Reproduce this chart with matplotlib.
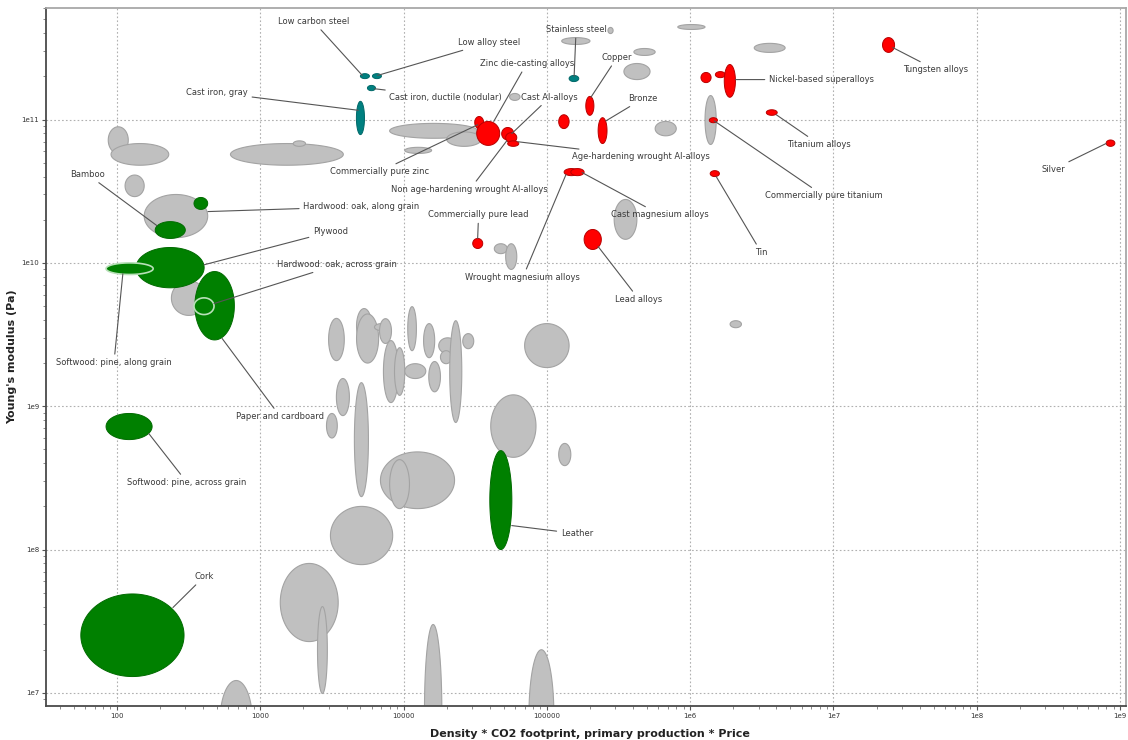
import numpy as np
import matplotlib
matplotlib.use("Agg")
import matplotlib.pyplot as plt
from matplotlib.ticker import LogLocator, NullFormatter

# ---------------------------------------------------------------
# Background materials (grey bubbles): property ranges
# x = Density * CO2 footprint * Price, y = Young's modulus (Pa)
# ---------------------------------------------------------------
bg_x_lo = [87, 91, 114, 155, 620, 1700, 8000, 20000, 10200, 55000,
           1.27e5, 8.2e5, 4.05e5, 2.8e6, 3.45e5, 5.7e5, 1.27e6, 2.95e5,
           43000, 51600, 1.9e6, 240, 3000, 4700, 4700, 6270, 6800, 7240,
           8650, 10700, 10200, 13800, 15000, 17600, 18100, 21000, 25900,
           70000, 3400, 2900, 4540, 6900, 8000, 40600, 1.21e5, 3090, 1380,
           2510, 14000, 75000, 525, 2.67e5]
bg_x_hi = [120, 230, 155, 430, 3800, 2070, 33000, 35000, 15700, 65000,
           2.0e5, 1.27e6, 5.7e5, 4.6e6, 5.25e5, 8.0e5, 1.52e6, 4.25e5,
           53000, 61700, 2.28e6, 420, 3860, 6000, 6700, 7850, 8240, 9220,
           10200, 12300, 14300, 16500, 18100, 23500, 21700, 25500, 30900,
           1.43e5, 4190, 3450, 5690, 22700, 11000, 84000, 1.47e5, 8400, 3500,
           2940, 18500, 1.12e5, 880, 2.9e5]
bg_y_lo = [5.8e10, 4.8e10, 2.9e10, 1.5e10, 4.8e10, 6.5e10, 7.4e10, 6.5e10,
           5.8e10, 1.36e11, 3.34e11, 4.25e11, 2.8e11, 2.94e11, 1.9e11, 7.7e10,
           6.7e10, 1.46e10, 1.16e10, 9.0e9, 3.53e9, 4.3e9, 2.08e9, 2.74e9,
           2.0e9, 3.37e9, 2.74e9, 1.06e9, 1.19e9, 2.44e9, 1.56e9, 2.18e9,
           1.26e9, 2.33e9, 1.98e9, 7.7e8, 2.52e9, 1.86e9, 8.6e8, 6.0e8,
           2.34e8, 1.93e8, 1.93e8, 4.4e8, 3.85e8, 7.85e7, 2.28e7, 9.9e6,
           1.9e6, 2.4e6, 3.4e6, 3.98e11]
bg_y_hi = [8.9e10, 6.8e10, 4.1e10, 3.0e10, 6.8e10, 7.1e10, 9.4e10, 8.2e10,
           6.4e10, 1.52e11, 3.73e11, 4.6e11, 3.13e11, 3.4e11, 2.46e11, 9.7e10,
           1.47e11, 2.77e10, 1.36e10, 1.36e10, 3.95e9, 7.5e9, 4.1e9, 4.8e9,
           4.4e9, 3.77e9, 4.08e9, 2.87e9, 2.56e9, 4.95e9, 1.98e9, 3.77e9,
           2.05e9, 3.0e9, 2.44e9, 3.95e9, 3.21e9, 3.77e9, 1.56e9, 8.9e8,
           1.46e9, 4.8e8, 4.24e8, 1.2e9, 5.5e8, 2.0e8, 8.0e7, 4.0e7,
           3.0e7, 2.0e7, 1.22e7, 4.39e11]

# ---------------------------------------------------------------
# Highlighted materials (drawn in this order)
# ---------------------------------------------------------------
hl_names = [
    "Cork", "Leather", "Softwood: pine, across grain", "Paper and cardboard",
    "Hardwood: oak, across grain", "Plywood", "Softwood: pine, along grain",
    "Bamboo", "Hardwood: oak, along grain",
    "Cast iron, gray", "Low carbon steel", "Low alloy steel",
    "Cast iron, ductile (nodular)", "Stainless steel",
    "Commercially pure zinc", "Zinc die-casting alloys", "Cast Al-alloys",
    "Non age-hardening wrought Al-alloys", "Age-hardening wrought Al-alloys",
    "", "Copper", "Bronze", "", "", "Nickel-based superalloys",
    "Commercially pure titanium", "Titanium alloys",
    "Wrought magnesium alloys", "Cast magnesium alloys", "Tin",
    "Commercially pure lead", "Lead alloys", "Tungsten alloys", "Silver",
]
hl_family = (["natural"] * 9 + ["ferrous"] * 5 + ["nonferrous"] * 20)
hl_x_lo = [56, 40000, 84, 350, 345, 136, 84, 185, 345,
           4690, 5000, 6070, 5600, 1.43e5,
           31400, 32400, 48400, 51600, 53300, 1.21e5, 1.87e5, 2.28e5,
           1.19e6, 1.5e6, 1.73e6, 1.36e6, 3.4e6, 1.32e5, 1.47e5, 1.38e6,
           30400, 1.82e5, 2.2e7, 8.0e8]
hl_x_hi = [294, 57000, 176, 660, 476, 406, 179, 300, 430,
           5340, 5780, 7010, 6370, 1.67e5,
           36200, 46900, 58800, 61700, 63700, 1.43e5, 2.13e5, 2.63e5,
           1.4e6, 1.76e6, 2.07e6, 1.55e6, 4.05e6, 1.67e5, 1.82e5, 1.6e6,
           35700, 2.4e5, 2.67e7, 9.2e8]
hl_y_lo = [1.3e7, 1.0e8, 5.85e8, 2.9e9, 4.36e9, 6.7e9, 8.3e9, 1.48e10, 2.36e10,
           7.85e10, 1.93e11, 1.93e11, 1.59e11, 1.84e11,
           8.65e10, 6.6e10, 7.2e10, 6.9e10, 6.5e10, 8.65e10, 1.07e11, 6.8e10,
           1.81e11, 1.96e11, 1.43e11, 9.5e10, 1.07e11, 4.06e10, 4.06e10, 4.0e10,
           1.26e10, 1.24e10, 2.94e11, 6.5e10]
hl_y_hi = [4.9e7, 4.9e8, 8.9e8, 8.7e9, 5.7e9, 1.28e10, 1.0e10, 1.94e10, 2.86e10,
           1.34e11, 2.09e11, 2.09e11, 1.73e11, 2.03e11,
           1.05e11, 9.7e10, 8.8e10, 8.1e10, 7.1e10, 1.08e11, 1.45e11, 1.03e11,
           2.13e11, 2.16e11, 2.42e11, 1.03e11, 1.17e11, 4.55e10, 4.55e10, 4.4e10,
           1.48e10, 1.71e10, 3.73e11, 7.2e10]

x_ticks = [100, 1000, 10000, 100000, 1e6, 1e7, 1e8, 1e9]
x_tick_labels = ["100", "1000", "10000", "100000", "1e6", "1e7", "1e8", "1e9"]
y_ticks = [1e7, 1e8, 1e9, 1e10, 1e11]
y_tick_labels = ["1e7", "1e8", "1e9", "1e10", "1e11"]

# Label placement: name -> (text x, text y, leader end x, leader end y)
label_pos = {
    "Low carbon steel": (2350, 4.83e11, 5160, 2.03e11),
    "Low alloy steel": (39300, 3.44e11, 6580, 2.03e11),
    "Cast iron, gray": (500, 1.54e11, 4840, 1.16e11),
    "Cast iron, ductile (nodular)": (19700, 1.43e11, 6270, 1.64e11),
    "Zinc die-casting alloys": (72400, 2.46e11, 42600, 9.7e10),
    "Cast Al-alloys": (1.05e5, 1.43e11, 56900, 7.98e10),
    "Stainless steel": (1.6e5, 4.25e11, 1.55e5, 2.0e11),
    "Copper": (3.09e5, 2.71e11, 2.03e5, 1.43e11),
    "Bronze": (4.69e5, 1.4e11, 2.59e5, 9.8e10),
    "Nickel-based superalloys": (8.24e6, 1.9e11, 2.07e6, 1.9e11),
    "Tungsten alloys": (5.16e7, 2.23e11, 2.59e7, 3.18e11),
    "Titanium alloys": (7.98e6, 6.7e10, 3.99e6, 1.08e11),
    "Commercially pure titanium": (8.5e6, 2.95e10, 1.47e6, 9.8e10),
    "Silver": (3.4e8, 4.48e10, 7.98e8, 6.8e10),
    "Age-hardening wrought Al-alloys": (4.54e5, 5.52e10, 62700, 7.0e10),
    "Commercially pure zinc": (6790, 4.33e10, 32900, 9.2e10),
    "Non age-hardening wrought Al-alloys": (29000, 3.25e10, 52500, 7.1e10),
    "Commercially pure lead": (33400, 2.17e10, 32900, 1.48e10),
    "Cast magnesium alloys": (6.17e5, 2.17e10, 1.76e5, 4.27e10),
    "Wrought magnesium alloys": (67900, 7.9e9, 1.36e5, 4.13e10),
    "Lead alloys": (4.4e5, 5.55e9, 2.28e5, 1.3e10),
    "Tin": (3.14e6, 1.18e10, 1.52e6, 4.0e10),
    "Bamboo": (62.7, 4.13e10, 190, 1.82e10),
    "Hardwood: oak, along grain": (5080, 2.47e10, 432, 2.28e10),
    "Plywood": (3090, 1.65e10, 406, 9.7e9),
    "Hardwood: oak, across grain": (3450, 9.7e9, 476, 5.2e9),
    "Softwood: pine, along grain": (95.3, 2.01e9, 110, 8.4e9),
    "Paper and cardboard": (1380, 8.45e8, 542, 2.97e9),
    "Softwood: pine, across grain": (309, 2.93e8, 167, 6.44e8),
    "Leather": (1.62e5, 1.29e8, 56900, 1.47e8),
    "Cork": (406, 6.47e7, 246, 3.94e7),
}

# Styling
face = {"natural": "#008000", "ferrous": "#008080", "nonferrous": "#ff0000"}
edge = {"natural": "#006a00", "ferrous": "#006868", "nonferrous": "#b80000"}
pale_edge_names = {"Softwood: pine, along grain", "Hardwood: oak, across grain"}


def draw_range(ax, xlo, xhi, ylo, yhi, fc, ec, lw, z):
    """Ellipse spanning a property range, drawn in log-log space."""
    t = np.linspace(0, 2 * np.pi, 240)
    lx0, lx1 = np.log10(xlo), np.log10(xhi)
    ly0, ly1 = np.log10(ylo), np.log10(yhi)
    cx, rx = (lx0 + lx1) / 2, (lx1 - lx0) / 2
    cy, ry = (ly0 + ly1) / 2, (ly1 - ly0) / 2
    ax.fill(10 ** (cx + rx * np.cos(t)), 10 ** (cy + ry * np.sin(t)),
            facecolor=fc, edgecolor=ec, linewidth=lw, zorder=z)


fig = plt.figure(figsize=(11.28, 7.4), dpi=100)
ax = fig.add_axes([46 / 1128, 34 / 740, 1080 / 1128, 698 / 740])
ax.set_xscale("log")
ax.set_yscale("log")
ax.set_xlim(32, 1.1e9)
ax.set_ylim(8.1e6, 6.0e11)

for xl, xh, yl, yh in zip(bg_x_lo, bg_x_hi, bg_y_lo, bg_y_hi):
    draw_range(ax, xl, xh, yl, yh, "#c0c0c0", "#a3a3a3", 0.8, 2)

for i, (nm, fam) in enumerate(zip(hl_names, hl_family)):
    ec = "#b8e0b8" if nm in pale_edge_names else edge[fam]
    lw = 1.2 if nm in pale_edge_names else 0.7
    draw_range(ax, hl_x_lo[i], hl_x_hi[i], hl_y_lo[i], hl_y_hi[i],
               face[fam], ec, lw, 3 + i * 0.01)

for nm, (tx, ty, px, py) in label_pos.items():
    ax.annotate(nm, xy=(px, py), xytext=(tx, ty), textcoords="data",
                ha="center", va="center", fontsize=6, color="#3a3a3a",
                family="DejaVu Sans", zorder=6,
                arrowprops=dict(arrowstyle="-", color="#555555", lw=0.8,
                                shrinkA=1, shrinkB=0))

# Axes, ticks and grid
ax.set_xticks(x_ticks)
ax.set_xticklabels(x_tick_labels)
ax.set_yticks(y_ticks)
ax.set_yticklabels(y_tick_labels)
ax.xaxis.set_minor_locator(LogLocator(base=10, subs=np.arange(2, 10), numticks=30))
ax.yaxis.set_minor_locator(LogLocator(base=10, subs=np.arange(2, 10), numticks=30))
ax.xaxis.set_minor_formatter(NullFormatter())
ax.yaxis.set_minor_formatter(NullFormatter())
ax.tick_params(which="major", direction="out", length=3, width=0.8,
               color="#555555", labelsize=5, labelcolor="#333333", pad=2)
ax.tick_params(which="minor", direction="out", length=2, width=0.6,
               color="#777777")
ax.grid(True, which="major", linestyle=(0, (1.5, 2)), color="#b0b0b0",
        linewidth=0.8, zorder=0)
ax.set_axisbelow(True)

for side in ("left", "bottom"):
    ax.spines[side].set_color("#4a4a4a")
    ax.spines[side].set_linewidth(1.3)
for side in ("top", "right"):
    ax.spines[side].set_color("#a8a8a8")
    ax.spines[side].set_linewidth(1.3)

ax.set_xlabel("Density * CO2 footprint, primary production * Price",
              fontsize=8, fontweight="bold", color="#222222")
ax.set_ylabel("Young's modulus (Pa)", fontsize=8, fontweight="bold",
              color="#222222")
ax.xaxis.set_label_coords(0.504, -0.033)
ax.yaxis.set_label_coords(-0.027, 0.5)

fig.savefig("out.png", dpi=100, facecolor="white")
